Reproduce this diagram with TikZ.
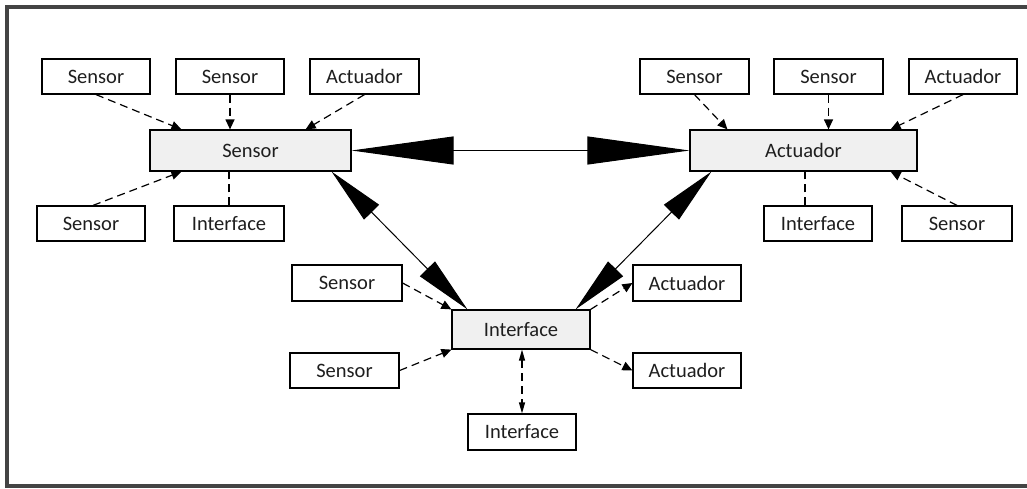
\documentclass[tikz,border=0pt]{standalone}
\usepackage{fontspec}
\setmainfont{Carlito}
\usetikzlibrary{arrows.meta,calc}
\definecolor{framegray}{HTML}{444444}
\definecolor{hubfill}{HTML}{F0F0F0}
\definecolor{txt}{HTML}{1E1E1E}
\tikzset{
  leaf/.style={draw=black, line width=1.2pt, fill=white, minimum width=108pt, minimum height=35pt,
    inner sep=0pt, text=txt, font=\fontsize{20.5pt}{24pt}\selectfont},
  hub/.style={leaf, fill=hubfill, minimum height=41pt},
  feed/.style={draw=black, line width=1.2pt, dash pattern=on 8pt off 5pt, -{Triangle[length=10pt,width=9pt]}},
  tie/.style={draw=black, line width=1.2pt, dash pattern=on 8pt off 5pt},
  twoway/.style={draw=black, line width=1.2pt, dash pattern=on 8pt off 5pt,
    {Triangle[length=11pt,width=6pt]}-{Triangle[length=11pt,width=6pt]}},
  biglink/.style={draw=black, line width=1pt, {Triangle[length=102pt,width=28pt]}-{Triangle[length=102pt,width=28pt]}},
  diaglink/.style={draw=black, line width=1pt, {Triangle[length=57pt,width=21pt]}-{Triangle[length=57pt,width=21pt]}}
}
\begin{document}
\begin{tikzpicture}[x=1pt,y=-1pt]
\useasboundingbox (0,0) rectangle (1027,488);
% outer frame
\draw[framegray, line width=3.5pt] (7,7) rectangle (1032,486);

% Sensor hub and its neighbours
\node[hub, minimum width=201pt] (S) at (250.5,150.5) {Sensor};
\node[leaf] (a1) at (96,76.5) {Sensor};
\node[leaf] (a2) at (230,76.5) {Sensor};
\node[leaf, minimum width=109pt] (a3) at (364.5,76.5) {Actuador};
\node[leaf] (a4) at (91,223.5) {Sensor};
\node[leaf, minimum width=110pt] (a5) at (229,223.5) {Interface};

% Actuador hub and its neighbours
\node[hub, minimum width=227pt] (A) at (803.5,150.5) {Actuador};
\node[leaf, minimum width=109pt] (b1) at (694.5,76.5) {Sensor};
\node[leaf, minimum width=109pt] (b2) at (828.5,76.5) {Sensor};
\node[leaf] (b3) at (963,76.5) {Actuador};
\node[leaf] (b4) at (818,223.5) {Interface};
\node[leaf, minimum width=110pt] (b5) at (957,223.5) {Sensor};

% Interface hub and its neighbours
\node[hub, minimum width=138pt, minimum height=39pt] (I) at (521,329.5) {Interface};
\node[leaf, minimum width=110pt, minimum height=36pt] (c1) at (347,283) {Sensor};
\node[leaf, minimum width=109pt] (c2) at (344.5,370.5) {Sensor};
\node[leaf, minimum height=36pt] (c3) at (687,283) {Actuador};
\node[leaf] (c4) at (687,370.5) {Actuador};
\node[leaf, minimum height=36pt] (c5) at (522,432) {Interface};

% links between the hubs
\draw[biglink] (S.east) -- (A.west);
\draw[diaglink] ([xshift=-20pt]S.south east) -- ([xshift=16pt]I.north west);
\draw[diaglink] ([xshift=22pt]A.south west) -- ([xshift=-15pt]I.north east);

% Sensor hub inputs
\draw[feed] (a1.south) -- ([xshift=32pt]S.north west);
\draw[feed] (a2.south) -- (a2.south |- S.north);
\draw[feed] (a3.south) -- ([xshift=-46pt]S.north east);
\draw[feed] ([xshift=2pt]a4.north) -- ([xshift=32pt]S.south west);
\draw[tie] (a5.north) -- (a5.north |- S.south);

% Actuador hub inputs
\draw[feed] (b1.south) -- ([xshift=38pt]A.north west);
\draw[feed] (b2.south) -- (b2.south |- A.north);
\draw[feed] (b3.south) -- ([xshift=-27pt]A.north east);
\draw[feed] (b5.north) -- ([xshift=-27pt]A.south east);
\draw[tie] ([xshift=-13pt]b4.north) -- ([xshift=-13pt]b4.north |- A.south);

% Interface hub inputs and outputs
\draw[feed] (c1.east) -- (I.north west);
\draw[feed] (c2.east) -- (I.south west);
\draw[feed] (I.north east) -- (c3.west);
\draw[feed] (I.south east) -- (c4.west);
\draw[twoway] (I.south -| c5.north) -- (c5.north);
\end{tikzpicture}
\end{document}
